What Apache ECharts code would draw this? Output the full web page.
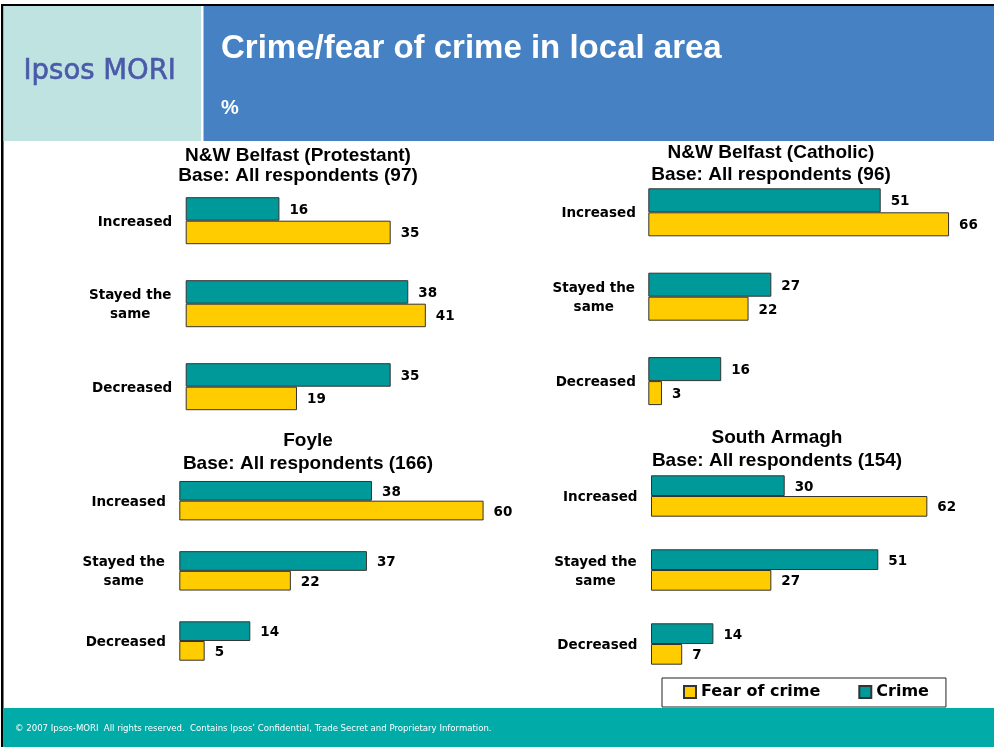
<!DOCTYPE html>
<html>
<head>
<meta charset="utf-8">
<title>Crime/fear of crime in local area</title>
<script src="https://cdn.jsdelivr.net/npm/echarts@6/dist/echarts.min.js"></script>
<style>
  html, body { margin: 0; padding: 0; background: #ffffff; }
  #chart { width: 994px; height: 747px; }
</style>
</head>
<body>
<div id="chart"></div>
<script>
// Survey answers: how crime / fear of crime changed in the local area (%)
const categories = ['Increased', 'Stayed the\nsame', 'Decreased'];

const panelNames = ['N&W Belfast (Protestant)', 'N&W Belfast (Catholic)', 'Foyle', 'South Armagh'];
const panelBases = [97, 96, 166, 154];

const crimeProtestant = [16, 38, 35];
const fearProtestant  = [35, 41, 19];

const crimeCatholic = [51, 27, 16];
const fearCatholic  = [66, 22, 3];

const crimeFoyle = [38, 37, 14];
const fearFoyle  = [60, 22, 5];

const crimeSouthArmagh = [30, 51, 14];
const fearSouthArmagh  = [62, 27, 7];

const crimeSets = [crimeProtestant, crimeCatholic, crimeFoyle, crimeSouthArmagh];
const fearSets  = [fearProtestant, fearCatholic, fearFoyle, fearSouthArmagh];

// Panel layout (pixels)
const panelGrids = [
  { left: 185.7, top: 179.2, height: 249,   width: 410, bar: 23.5, labelMargin: 13.5 },
  { left: 648.3, top: 170.1, height: 253.2, width: 319, bar: 24,   labelMargin: 12.5 },
  { left: 179.3, top: 465.6, height: 210.5, width: 355, bar: 19.7, labelMargin: 13.5 },
  { left: 651,   top: 459,   height: 222,   width: 312, bar: 20.7, labelMargin: 13.5 }
];
const panelTitlePos = [
  { x: 298, y1: 155.5, y2: 176 },
  { x: 771, y1: 153,   y2: 174.5 },
  { x: 308, y1: 440.3, y2: 463.3 },
  { x: 777, y1: 437.8, y2: 460.8 }
];

const TEAL = '#009999';
const YELLOW = '#FFCC00';
const LABEL_FONT = 'DejaVu Sans, Verdana, sans-serif';

// Multi-line category names are centred on each other, single lines sit flush right
function categoryLabel(value) {
  const lines = value.split('\n');
  if (lines.length === 1) return value;
  return lines.map(l => '{c|' + l + '}').join('\n');
}

const grids = [], xAxes = [], yAxes = [], series = [];
panelGrids.forEach((g, i) => {
  grids.push({ left: g.left, top: g.top, width: g.width, height: g.height, containLabel: false });
  xAxes.push({
    type: 'value', gridIndex: i, min: 0, max: 70,
    show: false, splitLine: { show: false }
  });
  yAxes.push({
    type: 'category', gridIndex: i, data: categories, inverse: true,
    axisLine: { show: false }, axisTick: { show: false },
    axisLabel: {
      margin: g.labelMargin, color: '#000', fontFamily: LABEL_FONT, fontWeight: 'bold',
      fontSize: 13.5, lineHeight: 19, align: 'right', padding: [3, 0, 0, 0],
      formatter: categoryLabel,
      rich: {
        c: {
          width: 84, align: 'center', color: '#000', fontFamily: LABEL_FONT,
          fontWeight: 'bold', fontSize: 13.5, lineHeight: 19
        }
      }
    }
  });
  const labelCfg = {
    show: true, position: 'right', distance: 10, offset: [0, 1.5], color: '#000',
    fontFamily: LABEL_FONT, fontWeight: 'bold', fontSize: 13.5
  };
  series.push({
    name: 'Crime', type: 'bar', xAxisIndex: i, yAxisIndex: i,
    data: crimeSets[i], barWidth: g.bar, barGap: '0%',
    itemStyle: { color: TEAL, borderColor: '#333', borderWidth: 1 },
    label: labelCfg, animation: false
  });
  series.push({
    name: 'Fear of crime', type: 'bar', xAxisIndex: i, yAxisIndex: i,
    data: fearSets[i], barWidth: g.bar, barGap: '0%',
    itemStyle: { color: YELLOW, borderColor: '#333', borderWidth: 1 },
    label: labelCfg, animation: false
  });
});

// Page furniture: frame, header, panel titles, footer
const graphics = [
  { type: 'rect', shape: { x: 2, y: 4, width: 992, height: 2 }, style: { fill: '#000' } },
  { type: 'rect', shape: { x: 1, y: 4, width: 2.5, height: 743 }, style: { fill: '#000' } },
  { type: 'rect', shape: { x: 3.5, y: 6, width: 197.5, height: 135 }, style: { fill: '#BFE3E1' } },
  { type: 'rect', shape: { x: 203.5, y: 6, width: 790.5, height: 135 }, style: { fill: '#4681C3' } },
  {
    type: 'text', x: 23.5, y: 72,
    style: {
      text: 'Ipsos MORI', fill: '#4B5AA8', font: '27.5px "DejaVu Sans", Verdana, sans-serif',
      verticalAlign: 'middle', stroke: '#4B5AA8', lineWidth: 0.6
    }
  },
  {
    type: 'text', x: 221, y: 49,
    style: {
      text: 'Crime/fear of crime in local area', fill: '#fff',
      font: 'bold 33px "Liberation Sans", Arial, sans-serif', verticalAlign: 'middle'
    }
  },
  {
    type: 'text', x: 221, y: 108,
    style: {
      text: '%', fill: '#fff',
      font: 'bold 20px "Liberation Sans", Arial, sans-serif', verticalAlign: 'middle'
    }
  },
  { type: 'rect', shape: { x: 3.5, y: 708, width: 990.5, height: 39 }, style: { fill: '#00ABA8' } },
  {
    type: 'text', x: 15, y: 728.5,
    style: {
      text: '\u00A9 2007 Ipsos-MORI  All rights reserved.  Contains Ipsos\u2019 Confidential, Trade Secret and Proprietary Information.',
      fill: '#fff', font: '9.5px "DejaVu Sans Condensed", "DejaVu Sans", sans-serif', verticalAlign: 'middle'
    }
  }
];
panelTitlePos.forEach((p, i) => {
  const font = 'bold 19px "Liberation Sans", Arial, sans-serif';
  graphics.push({
    type: 'text', x: p.x, y: p.y1,
    style: { text: panelNames[i], fill: '#000', font, align: 'center', verticalAlign: 'middle' }
  });
  graphics.push({
    type: 'text', x: p.x, y: p.y2,
    style: { text: 'Base: All respondents (' + panelBases[i] + ')', fill: '#000', font, align: 'center', verticalAlign: 'middle' }
  });
});

const chart = echarts.init(document.getElementById('chart'), null, { renderer: 'canvas' });
chart.setOption({
  animation: false,
  backgroundColor: '#ffffff',
  grid: grids,
  xAxis: xAxes,
  yAxis: yAxes,
  series: series,
  legend: {
    data: ['Fear of crime', 'Crime'],
    left: 662, top: 678,
    orient: 'horizontal',
    icon: 'rect', itemWidth: 12, itemHeight: 12, itemGap: 38,
    padding: [6, 17, 7, 21],
    borderColor: '#222', borderWidth: 1, backgroundColor: '#fff',
    selectedMode: false,
    textStyle: { color: '#000', fontFamily: LABEL_FONT, fontWeight: 'bold', fontSize: 16, padding: [3, 0, 0, 0] }
  },
  graphic: graphics
});
</script>
</body>
</html>
